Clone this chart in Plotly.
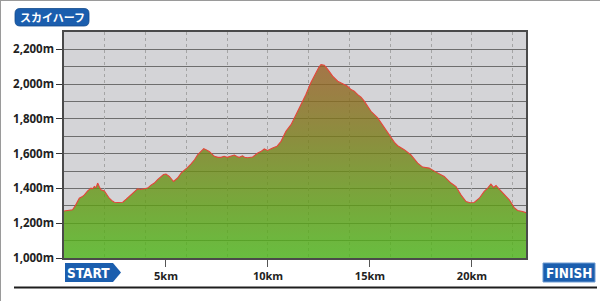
import plotly.graph_objects as go

# ---- data ----
distance_km = [0.00, 0.20, 0.42, 0.55, 0.75, 0.88, 1.00, 1.15, 1.32, 1.40, 1.49, 1.57, 1.65, 1.73,
               1.81, 1.98, 2.10, 2.22, 2.35, 2.47, 2.65, 2.88, 3.05, 3.28, 3.45, 3.61, 3.75, 3.86,
               4.10, 4.25, 4.43, 4.60, 4.75, 4.88, 5.00, 5.16, 5.37, 5.57, 5.75, 5.90, 6.05, 6.22,
               6.40, 6.55, 6.72, 6.85, 6.98, 7.12, 7.37, 7.55, 7.70, 7.85, 8.00, 8.20, 8.35, 8.50,
               8.60, 8.75, 8.85, 9.00, 9.25, 9.50, 9.65, 9.82, 9.98, 10.23, 10.44, 10.64, 10.88,
               11.13, 11.37, 11.62, 11.86, 12.10, 12.35, 12.50, 12.60, 12.76, 12.93, 13.17, 13.42,
               13.66, 13.90, 14.07, 14.23, 14.40, 14.56, 14.72, 15.05, 15.38, 15.70, 16.03, 16.20,
               16.36, 16.68, 17.00, 17.34, 17.58, 17.90, 18.24, 18.64, 18.97, 19.22, 19.46, 19.71,
               19.90, 20.11, 20.36, 20.60, 20.77, 20.93, 21.06, 21.18, 21.34, 21.58, 21.83, 22.07,
               22.24, 22.48, 22.65]
elevation_m = [1270, 1272, 1277, 1300, 1344, 1352, 1363, 1385, 1402, 1398, 1411, 1405, 1431, 1410,
               1392, 1386, 1365, 1344, 1330, 1321, 1319, 1321, 1338, 1363, 1382, 1398, 1394, 1396,
               1402, 1418, 1431, 1452, 1469, 1480, 1483, 1469, 1440, 1460, 1490, 1508, 1520, 1540,
               1565, 1594, 1615, 1629, 1622, 1613, 1585, 1579, 1579, 1585, 1579, 1588, 1592, 1582,
               1579, 1588, 1580, 1577, 1581, 1604, 1612, 1627, 1619, 1633, 1642, 1671, 1729,
               1767, 1825, 1883, 1940, 2008, 2066, 2098, 2113, 2109, 2085, 2046, 2017,
               2002, 1988, 1969, 1960, 1940, 1925, 1902, 1844, 1806, 1748, 1690, 1665,
               1646, 1623, 1594, 1546, 1523, 1517, 1494, 1469, 1431, 1411, 1363, 1325,
               1318, 1319, 1344, 1383, 1402, 1425, 1406, 1417, 1396, 1363, 1335, 1290,
               1273, 1267, 1261]

x_tick_vals = [5, 10, 15, 20]
x_tick_text = ["5km", "10km", "15km", "20km"]
course_name = "スカイハーフ"
X_RANGE = [0, 22.65]

# ---- layout geometry (pixels) ----
L, R, T, B = 64, 526, 32, 258
W, H = R - L, B - T


def px(x):
    return (x - L) / W


def py(y):
    return (B - y) / H


BLUE = "#1b5eae"

fig = go.Figure()
# invisible carrier so the 2 km grid axis (x2) gets drawn
fig.add_trace(go.Scatter(x=X_RANGE, y=[1000, 1000], xaxis="x2", mode="lines",
                         line=dict(width=0), opacity=0, hoverinfo="skip", showlegend=False))
fig.add_trace(go.Scatter(
    x=distance_km, y=elevation_m, mode="lines",
    line=dict(color="#e5453a", width=1.1),
    fill="tozeroy",
    fillgradient=dict(
        type="vertical", start=1000, stop=2120,
        colorscale=[[0.0, "rgba(78,184,26,0.8)"],
                    [0.27, "rgba(95,158,20,0.8)"],
                    [0.62, "rgba(122,124,24,0.8)"],
                    [1.0, "rgba(153,94,36,0.8)"]]),
    hoverinfo="skip", showlegend=False))

shapes = []
# page borders
shapes.append(dict(type="line", xref="paper", yref="paper", x0=px(0), x1=px(600), y0=py(0.5), y1=py(0.5),
                   line=dict(color="#9a9a9a", width=1)))
shapes.append(dict(type="line", xref="paper", yref="paper", x0=px(0.5), x1=px(0.5), y0=py(0), y1=py(301),
                   line=dict(color="#9a9a9a", width=1)))
# bottom rule
shapes.append(dict(type="line", xref="paper", yref="paper", x0=px(14), x1=px(597), y0=py(287.5), y1=py(287.5),
                   line=dict(color="#1e1e1e", width=2)))


def rrect(x0, y0, x1, y1, r):
    pts = [f"M{px(x0 + r)},{py(y0)}", f"L{px(x1 - r)},{py(y0)}",
           f"Q{px(x1)},{py(y0)} {px(x1)},{py(y0 + r)}", f"L{px(x1)},{py(y1 - r)}",
           f"Q{px(x1)},{py(y1)} {px(x1 - r)},{py(y1)}", f"L{px(x0 + r)},{py(y1)}",
           f"Q{px(x0)},{py(y1)} {px(x0)},{py(y1 - r)}", f"L{px(x0)},{py(y0 + r)}",
           f"Q{px(x0)},{py(y0)} {px(x0 + r)},{py(y0)}", "Z"]
    return " ".join(pts)


shapes.append(dict(type="path", xref="paper", yref="paper", path=rrect(15, 8.5, 89, 26, 5),
                   fillcolor=BLUE, line=dict(color="#134a8c", width=0.8)))
# START arrow
start_path = (f"M{px(65)},{py(263)} L{px(113)},{py(263)} L{px(121)},{py(272.5)} "
              f"L{px(113)},{py(282)} L{px(65)},{py(282)} Z")
shapes.append(dict(type="path", xref="paper", yref="paper", path=start_path,
                   fillcolor=BLUE, line=dict(width=0)))
# FINISH box
shapes.append(dict(type="rect", xref="paper", yref="paper", x0=px(543), x1=px(595), y0=py(263), y1=py(282),
                   fillcolor=BLUE, line=dict(color="#6f9bd1", width=1)))

badge_font = dict(family="Liberation Sans Narrow, DejaVu Sans Condensed, Roboto", size=13.5,
                  color="white", weight="bold")
annotations = [
    dict(xref="paper", yref="paper", x=px(52), y=py(17.3), text=course_name, showarrow=False,
         xanchor="center", yanchor="middle",
         font=dict(family="Noto Sans CJK JP", size=11, color="white", weight="bold")),
    dict(xref="paper", yref="paper", x=px(88), y=py(272.8), text="START", showarrow=False,
         xanchor="center", yanchor="middle", font=badge_font),
    dict(xref="paper", yref="paper", x=px(569), y=py(272.8), text="FINISH", showarrow=False,
         xanchor="center", yanchor="middle", font=badge_font),
]

fig.update_layout(
    width=600, height=301,
    margin=dict(l=L, r=600 - R, t=T, b=301 - B),
    paper_bgcolor="white", plot_bgcolor="#d4d4d7",
    shapes=shapes, annotations=annotations,
    xaxis=dict(range=X_RANGE, tickmode="array", tickvals=x_tick_vals, ticktext=x_tick_text,
               showgrid=False, zeroline=False, ticks="outside", ticklen=7, tickcolor="#555",
               tickwidth=1,
               tickfont=dict(family="Open Sans", size=11, color="#222", weight="bold"),
               showline=True, mirror=True, linecolor="#4a4a4a", linewidth=1.5),
    # overlay axis used only for the 2 km vertical grid
    xaxis2=dict(range=X_RANGE, overlaying="x", side="bottom", tick0=0, dtick=2,
                showgrid=True, gridcolor="#a4a4a4", griddash="dot", gridwidth=1,
                showticklabels=False, ticks="", zeroline=False, showline=False),
    yaxis=dict(range=[1000, 2300], tick0=1000, dtick=200, tickformat=",d", ticksuffix="m",
               showgrid=True, gridcolor="#6e6e6e", gridwidth=1.3, zeroline=False,
               ticks="outside", ticklen=6, tickcolor="#333", tickwidth=1,
               tickfont=dict(family="Open Sans", size=11.5, color="#222", weight="bold"),
               showline=True, mirror=True, linecolor="#4a4a4a", linewidth=1.5,
               minor=dict(dtick=100, showgrid=True, gridcolor="#6e6e6e", gridwidth=1.3)),
)

fig.write_html("out.html")
